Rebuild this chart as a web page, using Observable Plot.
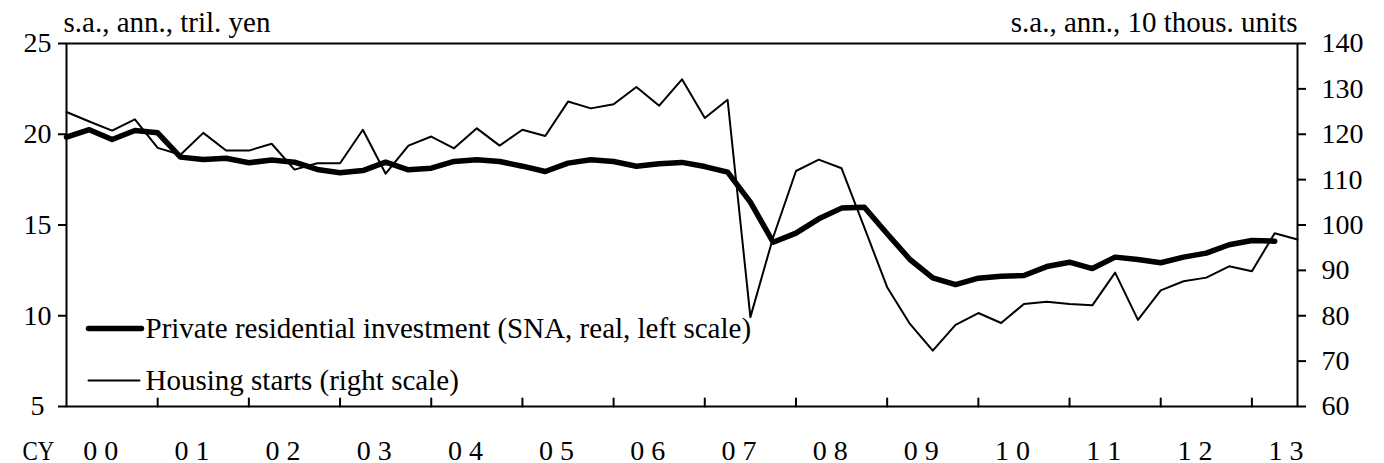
<!DOCTYPE html>
<html><head><meta charset="utf-8">
<script src="https://cdn.jsdelivr.net/npm/d3@7"></script>
<script src="https://cdn.jsdelivr.net/npm/@observablehq/plot@0.6"></script>
<style>body{margin:0;background:#fff} svg{display:block}</style>
</head><body><div id="chart"></div>
<script>
// Year labels (CY 2000 .. 2013), quarterly data starting 2000 Q1
const yearLabels = ["0 0","0 1","0 2","0 3","0 4","0 5","0 6","0 7","0 8","0 9","1 0","1 1","1 2","1 3"];
// Private residential investment (SNA, real), s.a., ann., tril. yen — 2000Q1..2013Q2
const residentialInvestment = [
  19.84, 20.25, 19.71, 20.21, 20.08, 18.74, 18.61, 18.68, 18.43, 18.58,
  18.46, 18.06, 17.88, 18.00, 18.46, 18.04, 18.13, 18.50, 18.60, 18.50,
  18.24, 17.95, 18.41, 18.59, 18.50, 18.24, 18.37, 18.45, 18.22, 17.91,
  16.26, 14.05, 14.55, 15.34, 15.93, 15.98, 14.52, 13.10, 12.09, 11.72,
  12.07, 12.18, 12.22, 12.71, 12.95, 12.60, 13.23, 13.10, 12.92, 13.23,
  13.45, 13.91, 14.15, 14.11
];
// Housing starts, s.a., ann., 10 thous. units — 2000Q1..2013Q3
const housingStarts = [
  124.9, 122.8, 120.8, 123.3, 117.0, 115.5, 120.3, 116.4, 116.4, 117.9,
  112.2, 113.6, 113.6, 121.0, 111.3, 117.5, 119.5, 116.9, 121.3, 117.5,
  121.0, 119.6, 127.2, 125.7, 126.6, 130.4, 126.3, 132.1, 123.6, 127.6,
  79.7, 97.3, 111.9, 114.4, 112.5, 99.4, 86.3, 78.2, 72.3, 78.0,
  80.6, 78.4, 82.6, 83.1, 82.6, 82.3, 89.5, 79.1, 85.6, 87.6,
  88.4, 90.9, 89.8, 98.2, 96.8
];
const leftTicks = [5, 10, 15, 20, 25];
const rightTicks = [60, 70, 80, 90, 100, 110, 120, 130, 140];
const leftTitle = "s.a., ann., tril. yen";
const rightTitle = "s.a., ann., 10 thous. units";
const xPrefix = "CY";
const seriesNames = ["Private residential investment (SNA, real, left scale)", "Housing starts (right scale)"];

const leftDomain = [5, 25], rightDomain = [60, 140];
const toLeft = r => leftDomain[0] + (r - rightDomain[0]) * (leftDomain[1] - leftDomain[0]) / (rightDomain[1] - rightDomain[0]);
const fromLeft = v => Math.round(rightDomain[0] + (v - leftDomain[0]) * (rightDomain[1] - rightDomain[0]) / (leftDomain[1] - leftDomain[0]));

const nQuarters = 54;
const yearBoundaries = yearLabels.slice(1).map((_, k) => 4 * (k + 1));
const tickShape = {draw(ctx, l) { ctx.moveTo(0, 0); ctx.lineTo(0, -l); }};
const FS = 28, TFS = 29;

const chart = Plot.plot({
  width: 1384, height: 463,
  marginLeft: 66, marginRight: 87, marginTop: 43, marginBottom: 57,
  style: {fontFamily: "'Liberation Serif', 'Times New Roman', serif", fontSize: FS + "px", color: "#000", background: "#fff", overflow: "visible"},
  x: {domain: [0, nQuarters], axis: null},
  y: {domain: leftDomain},
  marks: [
    Plot.frame({stroke: "#000", strokeWidth: 2}),
    Plot.axisY(leftTicks, {anchor: "left", label: null, tickSize: 8, tickPadding: 7, strokeWidth: 2,
      tickFormat: d => d < 10 ? d + "\u00a0" : String(d), ariaLabel: "left-axis"}),
    Plot.axisY(rightTicks.map(toLeft), {anchor: "right", label: null, tickSize: 8, tickPadding: 16, strokeWidth: 2,
      tickFormat: d => String(fromLeft(d))}),
    Plot.vector(yearBoundaries, {x: d => d, frameAnchor: "bottom", length: 8, rotate: 0, anchor: "start",
      shape: tickShape, stroke: "#000", strokeWidth: 2}),
    Plot.text(yearLabels, {x: (d, i) => 4 * i + 1.5, frameAnchor: "bottom", dy: 53, lineAnchor: "bottom", text: d => d}),
    Plot.text([xPrefix], {frameAnchor: "bottom-left", dx: -44, dy: 53, lineAnchor: "bottom", textAnchor: "start", text: d => d}),
    Plot.text([leftTitle], {frameAnchor: "top-left", dx: -3, dy: -12, lineAnchor: "bottom", textAnchor: "start", fontSize: TFS, text: d => d}),
    Plot.text([rightTitle], {frameAnchor: "top-right", dx: 0, dy: -12, lineAnchor: "bottom", textAnchor: "end", fontSize: TFS, text: d => d}),
    Plot.line(housingStarts, {x: (d, i) => i, y: d => toLeft(d), stroke: "#000", strokeWidth: 2}),
    Plot.line(residentialInvestment, {x: (d, i) => i, y: d => d, stroke: "#000", strokeWidth: 5.5}),
    // legend
    Plot.vector([0], {frameAnchor: "bottom-left", dx: 22, dy: -78, length: 53, rotate: 90, anchor: "start",
      shape: tickShape, stroke: "#000", strokeWidth: 5.5}),
    Plot.text([seriesNames[0]], {frameAnchor: "bottom-left", dx: 79, dy: -78, textAnchor: "start", lineAnchor: "middle", fontSize: TFS, text: d => d}),
    Plot.vector([0], {frameAnchor: "bottom-left", dx: 22, dy: -26, length: 51, rotate: 90, anchor: "start",
      shape: tickShape, stroke: "#000", strokeWidth: 2}),
    Plot.text([seriesNames[1]], {frameAnchor: "bottom-left", dx: 79, dy: -26, textAnchor: "start", lineAnchor: "middle", fontSize: TFS, text: d => d})
  ]
});
document.getElementById("chart").appendChild(chart);

// Left-axis digits in the reference are drawn wider; stretch them to match.
d3.select(chart).selectAll("g[aria-label='left-axis'] text, g[aria-label='y-axis tick label'] text").each(function () {
  const t = this.textContent;
  const g = this.parentNode;
  if (g.getAttribute("text-anchor") === "end" || this.getAttribute("text-anchor") === "end") {
    const n = t.replace("\u00a0", "").length;
    this.setAttribute("textLength", t.includes("\u00a0") ? 26 : 19 * n);
    this.setAttribute("lengthAdjust", "spacingAndGlyphs");
  }
});
d3.select(chart).selectAll("text").each(function () {
  if (this.textContent === xPrefix) {
    this.setAttribute("textLength", 32);
    this.setAttribute("lengthAdjust", "spacingAndGlyphs");
  }
});
</script>
</body></html>
